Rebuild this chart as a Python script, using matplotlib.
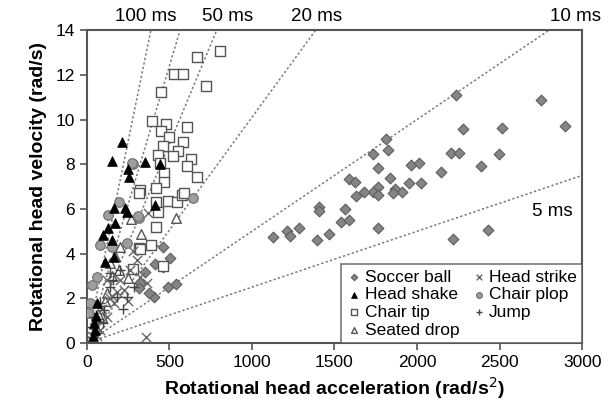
import matplotlib
matplotlib.use("Agg")
import matplotlib.pyplot as plt
import numpy as np

plt.rcParams['font.family'] = ['Liberation Sans', 'DejaVu Sans']

# rotational acceleration (rad/s^2) and velocity (rad/s) per activity
soccer_acc = [2752, 2897, 2279, 2515, 2206, 2255, 2497, 2388, 2145, 2430, 2218,
              2235, 1733, 1824, 1812, 1764, 1964, 2012, 1588, 1624, 1836, 1952,
              2024, 1764, 1733, 1764, 1679, 1630, 1867, 1909, 1855, 1406, 1406,
              1564, 1539, 1588, 1285, 1764, 1212, 1230, 1127, 1467, 1394,
              461, 503, 412, 461, 352, 321, 406, 491, 539, 315, 376]
soccer_vel = [10.87, 9.70, 9.57, 9.62, 8.50, 8.50, 8.45, 7.92, 7.65, 5.05, 4.65,
              11.1, 8.45, 8.63, 9.12, 7.83, 7.96, 8.05, 7.33, 7.20, 7.38, 7.16,
              7.16, 6.98, 6.75, 6.62, 6.75, 6.57, 6.89, 6.75, 6.71, 6.08, 5.90,
              5.99, 5.41, 5.50, 5.14, 5.14, 5.01, 4.79, 4.74, 4.87, 4.61,
              4.29, 3.80, 3.53, 3.40, 3.18, 2.68, 2.06, 2.50, 2.64, 2.46, 2.24]

shake_acc = [212, 152, 352, 442, 248, 255, 412, 164, 230, 242, 170, 127, 97,
             152, 164, 109, 42, 48, 61, 55, 35]
shake_vel = [8.99, 8.14, 8.09, 8.00, 7.78, 7.42, 6.17, 6.04, 6.04, 5.86, 5.37,
             5.14, 4.83, 4.61, 3.85, 3.62, 0.89, 0.58, 1.79, 1.2, 0.3]

tip_acc = [806, 667, 527, 582, 721, 448, 394, 479, 606, 448, 497, 461, 582, 552,
           430, 442, 521, 630, 606, 667, 467, 467, 418, 321, 315, 418, 491, 545,
           576, 588, 430, 418, 315, 388, 461, 321, 280]
tip_vel = [13.06, 12.79, 12.03, 12.03, 11.49, 11.23, 9.93, 9.79, 9.66, 9.48,
           9.21, 8.81, 8.99, 8.59, 8.41, 8.05, 8.36, 8.23, 7.92, 7.42, 7.60,
           7.20, 6.93, 6.84, 6.71, 6.31, 6.35, 6.31, 6.62, 6.71, 5.86, 5.19,
           4.25, 4.38, 3.44, 4.20, 3.3]

seated_acc = [267, 539, 327, 200, 139, 194, 121, 91, 250, 170, 110, 150, 70]
seated_vel = [5.55, 5.59, 4.87, 4.29, 3.58, 3.26, 2.24, 1.16, 2.9, 3.9, 1.9,
              3.0, 1.3]

strike_acc = [358, 370, 321, 364, 261, 224, 164, 121, 79, 303, 200, 150, 280,
              50, 90, 140, 180, 250, 120, 60]
strike_vel = [0.27, 5.81, 2.95, 2.68, 3.26, 2.37, 1.79, 1.16, 0.58, 3.71, 2.82,
              2.1, 4.1, 1.0, 1.5, 2.0, 2.3, 1.9, 2.8, 0.3]

plop_acc = [279, 273, 194, 315, 642, 79, 152, 242, 30, 18, 61, 127, 6, 309]
plop_vel = [8.00, 8.05, 6.31, 5.59, 6.48, 4.38, 4.29, 4.47, 2.59, 1.79, 2.95,
            5.72, 1.34, 5.68]

jump_acc = [139, 182, 103, 61, 242, 285, 200, 139, 42, 220, 100, 80, 160, 30]
jump_vel = [2.50, 2.06, 1.48, 0.45, 2.06, 2.50, 3.26, 3.13, 1.16, 1.5, 0.9,
            1.8, 2.8, 0.7]

# reference lines through the origin (velocity = slope * acceleration)
line_slopes = [0.0025, 0.005, 0.0101, 0.0178, 0.0248, 0.0361]

fig = plt.figure(figsize=(6.16, 4.13), dpi=100)
ax = fig.add_axes([0.141, 0.1695, 0.804, 0.7575])

xs = np.array([0, 3000])
for s in line_slopes:
    ax.plot(xs, s * xs, ls=(0, (1.5, 1.5)), color='#7a7a7a', lw=1.1, zorder=1)

ax.scatter(soccer_acc, soccer_vel, marker='D', s=30, c='#858585',
           edgecolors='#5e5e5e', linewidths=0.8, label='Soccer ball', zorder=3)
ax.scatter(shake_acc, shake_vel, marker='^', s=48, c='black',
           edgecolors='black', linewidths=0.6, label='Head shake', zorder=4)
ax.scatter(tip_acc, tip_vel, marker='s', s=55, c='white',
           edgecolors='#555555', linewidths=1.0, label='Chair tip', zorder=3)
ax.scatter(seated_acc, seated_vel, marker='^', s=48, c='white',
           edgecolors='#555555', linewidths=1.0, label='Seated drop', zorder=3)
ax.scatter(strike_acc, strike_vel, marker='x', s=45, c='#666666',
           linewidths=1.0, label='Head strike', zorder=3)
ax.scatter(plop_acc, plop_vel, marker='o', s=48, c='#9e9e9e',
           edgecolors='#6e6e6e', linewidths=0.8, label='Chair plop', zorder=3)
ax.scatter(jump_acc, jump_vel, marker='+', s=45, c='#444444',
           linewidths=1.0, label='Jump', zorder=3)

ax.set_xlim(0, 3000)
ax.set_ylim(0, 14)
ax.set_xticks(range(0, 3001, 500))
ax.set_yticks(range(0, 15, 2))
ax.tick_params(direction='out', length=5, width=1.2, color='#555555',
               labelsize=12.5)
for sp in ax.spines.values():
    sp.set_color('#555555')
    sp.set_linewidth(1.5)

ax.set_xlabel('Rotational head acceleration (rad/s$^2$)', fontsize=14,
              fontweight='bold', labelpad=4)
ax.set_ylabel('Rotational head velocity (rad/s)', fontsize=14,
              fontweight='bold', labelpad=6)

for txt, xv in [('100 ms', 355), ('50 ms', 855), ('20 ms', 1390),
                ('10 ms', 2960)]:
    ax.text(xv, 14.25, txt, ha='center', va='bottom', fontsize=13.5)
ax.text(2820, 5.9, '5 ms', ha='center', va='center', fontsize=13.5)

leg = ax.legend(loc='lower right', ncol=2, fontsize=12.5, frameon=True,
                fancybox=False, borderaxespad=0, handletextpad=0.1,
                columnspacing=0.6, labelspacing=0.15, borderpad=0.3,
                markerscale=0.6, handlelength=1.0)
leg.get_frame().set_edgecolor('#555555')
leg.get_frame().set_linewidth(1.2)

fig.savefig('out.png', dpi=100)
